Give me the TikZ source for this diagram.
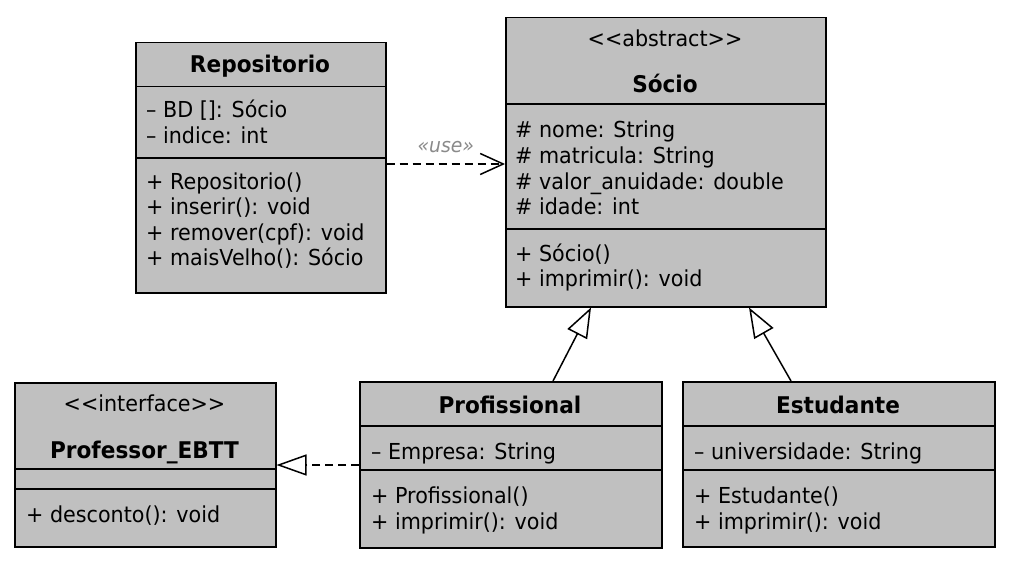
\documentclass[tikz,border=0pt]{standalone}
\usepackage{fontspec}
\setmainfont{DejaVu Sans}[FakeStretch=0.94]
\usetikzlibrary{arrows.meta}
\definecolor{umlgray}{HTML}{C0C0C0}
\definecolor{usegray}{HTML}{8A8A8A}
\tikzset{
  cls/.style={draw=black, fill=umlgray, line width=1.5bp, rectangle, inner sep=0pt, anchor=north west},
  txt/.style={anchor=base west, inner sep=0pt},
  ttl/.style={anchor=base, inner sep=0pt, font=\fontsize{23bp}{27bp}\selectfont\bfseries},
  stereo/.style={anchor=base, inner sep=0pt},
  sepline/.style={line width=1.3bp},
  conn/.style={line width=1.5bp},
  dsh/.style={dash pattern=on 8bp off 5bp},
}
\begin{document}
\begin{tikzpicture}[x=1bp, y=-1bp, every node/.style={font=\fontsize{22bp}{26bp}\selectfont}]
\useasboundingbox (0,0) rectangle (1018,564);

% ---------------- Repositorio
\node[cls, minimum width=250bp, minimum height=250bp] (repo) at (135,42) {};
\draw[sepline] (repo.west |- 0,86.5) -- (repo.east |- 0,86.5);
\draw[sepline] (repo.west |- 0,158) -- (repo.east |- 0,158);
\node[ttl] (repoT) at (260,73) {Repositorio};
\node[txt] (repoA1) at (146,118) {– BD []: Sócio};
\node[txt] (repoA2) at (146,144) {– indice: int};
\node[txt] (repoM1) at (146,190) {+ Repositorio()};
\node[txt] (repoM2) at (146,215) {+ inserir(): void};
\node[txt] (repoM3) at (146,241) {+ remover(cpf): void};
\node[txt] (repoM4) at (146,266) {+ maisVelho(): Sócio};

% ---------------- Socio
\node[cls, minimum width=320bp, minimum height=289bp] (socio) at (505,17) {};
\draw[sepline] (socio.west |- 0,104) -- (socio.east |- 0,104);
\draw[sepline] (socio.west |- 0,229) -- (socio.east |- 0,229);
\node[stereo] (socioS) at (665,47) {<{}<abstract>{}>};
\node[ttl] (socioT) at (665,93) {Sócio};
\node[txt] (socioA1) at (515,138) {\# nome: String};
\node[txt] (socioA2) at (515,164) {\# matricula: String};
\node[txt] (socioA3) at (515,190) {\# valor\_anuidade: double};
\node[txt] (socioA4) at (515,215) {\# idade: int};
\node[txt] (socioM1) at (515,262) {+ Sócio()};
\node[txt] (socioM2) at (515,287) {+ imprimir(): void};

% ---------------- Professor_EBTT
\node[cls, minimum width=261bp, minimum height=164bp] (iface) at (14,382) {};
\draw[sepline] (iface.west |- 0,469) -- (iface.east |- 0,469);
\draw[sepline] (iface.west |- 0,489) -- (iface.east |- 0,489);
\node[stereo] (ifaceS) at (144.5,411) {<{}<interface>{}>};
\node[ttl] (ifaceT) at (144.5,458) {Professor\_EBTT};
\node[txt] (ifaceM1) at (26,522) {+ desconto(): void};

% ---------------- Profissional
\node[cls, minimum width=302bp, minimum height=166bp] (prof) at (359,381) {};
\draw[sepline] (prof.west |- 0,426) -- (prof.east |- 0,426);
\draw[sepline] (prof.west |- 0,470) -- (prof.east |- 0,470);
\node[ttl] (profT) at (510,413) {Profissional};
\node[txt] (profA1) at (371,459) {– Empresa: String};
\node[txt] (profM1) at (371,503) {+ Profissional()};
\node[txt] (profM2) at (371,529) {+ imprimir(): void};

% ---------------- Estudante
\node[cls, minimum width=312bp, minimum height=165bp] (estu) at (682,381) {};
\draw[sepline] (estu.west |- 0,426) -- (estu.east |- 0,426);
\draw[sepline] (estu.west |- 0,470) -- (estu.east |- 0,470);
\node[ttl] (estuT) at (838,413) {Estudante};
\node[txt] (estuA1) at (694,459) {– universidade: String};
\node[txt] (estuM1) at (694,503) {+ Estudante()};
\node[txt] (estuM2) at (694,529) {+ imprimir(): void};

% ---------------- Connectors
\draw[conn, dsh, -{Straight Barb[length=23bp, width=21bp, line width=1.5bp]}]
  (repo.east |- 0,164) -- (socio.west |- 0,164)
  node[midway, anchor=base, yshift=11bp, text=usegray, font=\fontsize{20bp}{24bp}\selectfont\itshape] (uselbl) {«use»};

\draw[conn, -{Triangle[open, length=30bp, width=22bp]}]
  (553,0 |- prof.north) -- (591,0 |- socio.south);
\draw[conn, -{Triangle[open, length=30bp, width=22bp]}]
  (791,0 |- estu.north) -- (749,0 |- socio.south);

\draw[conn, dsh, -{Triangle[open, length=30bp, width=21bp]}]
  (prof.west |- 0,465) -- (iface.east |- 0,465);
\end{tikzpicture}
\end{document}
